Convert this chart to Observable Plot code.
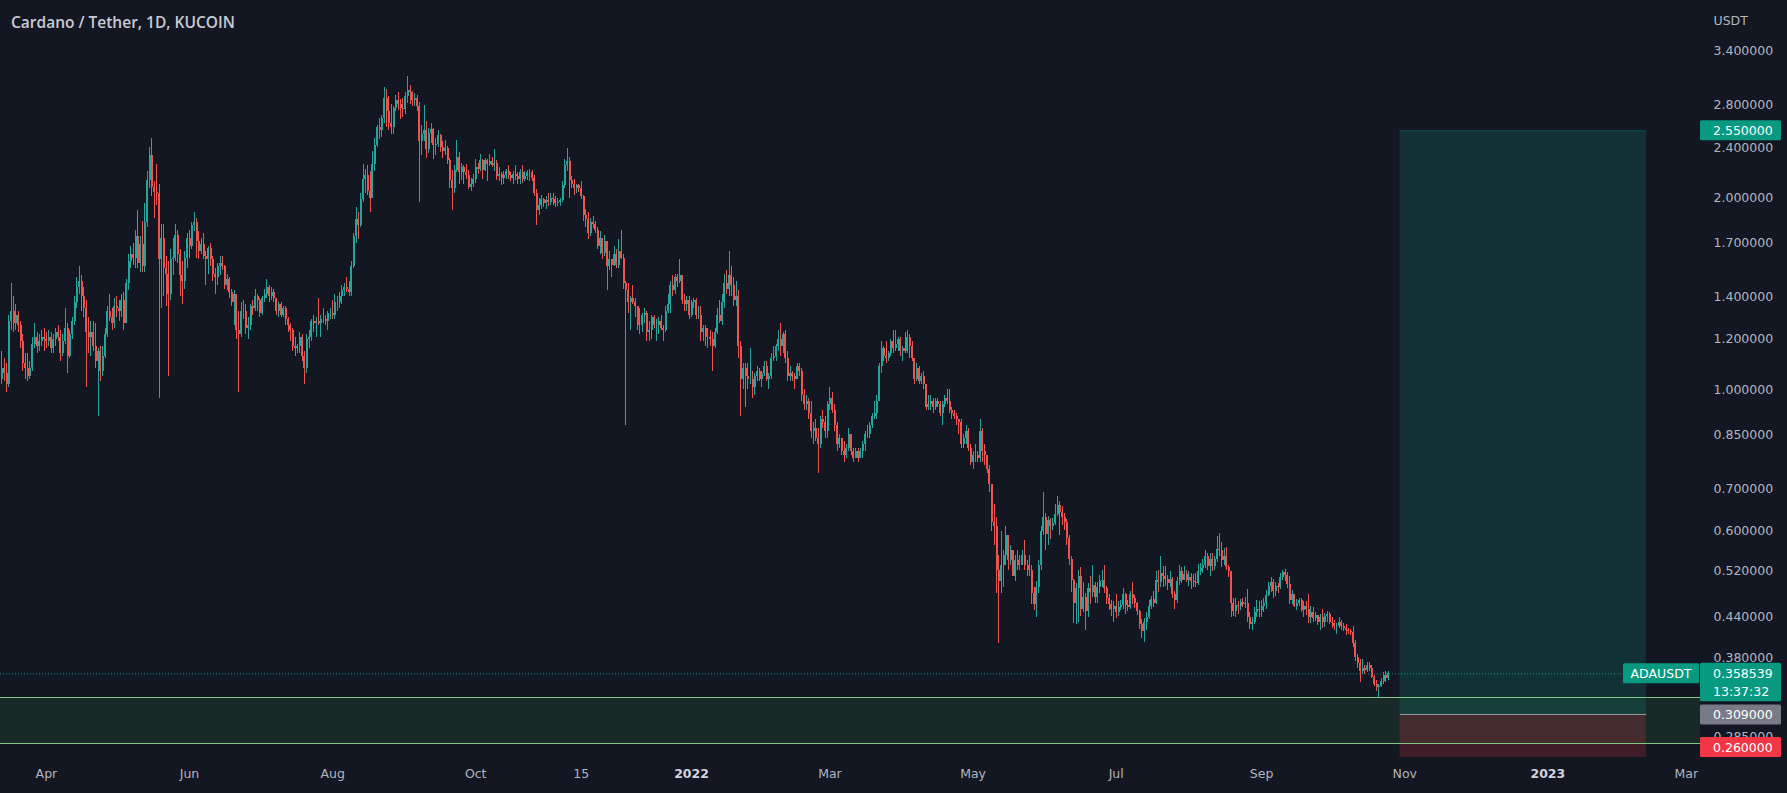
<!DOCTYPE html>
<html><head><meta charset="utf-8">
<script src="https://cdn.jsdelivr.net/npm/d3@7"></script>
<script src="https://cdn.jsdelivr.net/npm/@observablehq/plot@0.6"></script>
<style>
html,body{margin:0;padding:0;background:#131722;}
#wrap{position:relative;width:1787px;height:793px;overflow:hidden;background:#131722;}
#title{position:absolute;left:11px;top:11px;line-height:19px;font:600 15.5px "Open Sans",sans-serif;color:#c8cbd3;white-space:nowrap;}
</style></head><body>
<div id="wrap"><div id="title">Cardano / Tether, 1D, KUCOIN</div></div>
<script>
// ---- Daily ADA/USDT candles, first day 2021-03-13, one line per month ----
const startDate = "2021-03-13";
const firstOpen = 1.04;
const closes = [
1.08,1.06,1.02,1.28,1.33,1.27,1.31,1.26,1.19,1.10,1.08,1.05,1.08,1.18,1.21,1.17,1.19,1.21,1.20,
1.19,1.21,1.16,1.20,1.23,1.21,1.14,1.19,1.25,1.13,1.22,1.28,1.37,1.45,1.48,1.40,1.34,1.23,1.21,1.23,1.17,1.11,1.15,1.07,1.13,1.22,1.33,1.30,1.27,1.35,
1.34,1.33,1.38,1.27,1.47,1.59,1.63,1.61,1.74,1.58,1.69,1.56,1.83,2.13,2.33,2.08,2.04,2.03,1.60,1.73,1.55,1.52,1.41,1.60,1.61,1.75,1.63,1.51,1.48,1.61,1.73,
1.68,1.81,1.83,1.71,1.65,1.69,1.62,1.60,1.67,1.60,1.52,1.50,1.56,1.58,1.56,1.46,1.49,1.42,1.37,1.41,1.24,1.22,1.33,1.33,1.25,1.26,1.35,1.34,1.40,1.38,
1.32,1.39,1.41,1.45,1.40,1.42,1.39,1.33,1.36,1.31,1.34,1.29,1.26,1.24,1.17,1.16,1.17,1.21,1.13,1.08,1.20,1.21,1.28,1.27,1.28,1.27,1.29,1.29,1.28,1.32,1.32,
1.31,1.37,1.37,1.40,1.43,1.45,1.44,1.42,1.56,1.74,1.85,1.81,1.99,2.14,2.17,2.05,2.00,2.26,2.42,2.58,2.55,2.67,2.87,2.73,2.62,2.58,2.76,2.85,2.80,2.76,2.75,
2.89,2.95,2.93,2.85,2.87,2.78,2.45,2.52,2.55,2.38,2.53,2.56,2.42,2.43,2.51,2.40,2.37,2.39,2.29,2.13,2.07,2.21,2.32,2.19,2.23,2.19,2.17,2.08,2.10,2.14,
2.23,2.22,2.29,2.21,2.29,2.26,2.28,2.25,2.27,2.16,2.18,2.15,2.17,2.20,2.17,2.15,2.18,2.16,2.14,2.19,2.14,2.16,2.19,2.19,2.15,2.03,1.91,1.95,1.99,1.96,1.98,
1.97,2.00,1.99,1.96,1.97,1.98,2.09,2.25,2.28,2.13,2.10,2.07,2.09,2.07,2.01,1.88,1.85,1.76,1.83,1.82,1.78,1.68,1.73,1.64,1.71,1.56,1.60,1.57,1.63,1.57,
1.65,1.61,1.47,1.43,1.37,1.39,1.37,1.35,1.26,1.26,1.31,1.32,1.23,1.24,1.30,1.26,1.26,1.28,1.25,1.24,1.33,1.36,1.46,1.43,1.50,1.48,1.51,1.38,1.36,1.38,1.31,
1.37,1.38,1.31,1.31,1.23,1.25,1.21,1.21,1.20,1.17,1.23,1.31,1.28,1.37,1.47,1.44,1.51,1.46,1.38,1.40,1.17,1.04,1.08,1.05,1.04,1.04,1.01,1.05,1.07,1.04,1.06,
1.09,1.04,1.05,1.12,1.13,1.17,1.20,1.17,1.22,1.12,1.05,1.06,1.05,1.04,1.09,1.07,0.98,0.95,0.96,0.92,0.86,0.87,0.84,0.82,0.90,0.89,0.86,0.95,
0.97,0.93,0.88,0.82,0.84,0.80,0.79,0.81,0.85,0.80,0.78,0.80,0.78,0.80,0.82,0.85,0.85,0.88,0.91,0.92,0.96,1.09,1.16,1.13,1.12,1.14,1.19,1.16,1.18,1.20,1.15,
1.16,1.15,1.21,1.17,1.12,1.04,1.08,1.03,1.05,1.02,0.94,0.95,0.96,0.94,0.96,0.95,0.92,0.95,0.97,0.96,0.93,0.92,0.91,0.90,0.89,0.82,0.84,0.86,0.81,0.77,
0.79,0.79,0.78,0.86,0.80,0.79,0.75,0.71,0.62,0.61,0.52,0.50,0.53,0.55,0.59,0.54,0.56,0.51,0.54,0.53,0.53,0.55,0.53,0.53,0.52,0.48,0.46,0.49,0.53,0.60,0.63,
0.594,0.623,0.611,0.618,0.637,0.658,0.642,0.631,0.619,0.584,0.541,0.503,0.463,0.488,0.509,0.452,0.472,0.449,0.488,0.481,0.494,0.472,0.489,0.501,0.503,0.488,0.470,0.461,0.452,0.458,
0.448,0.456,0.459,0.477,0.459,0.455,0.478,0.470,0.463,0.449,0.429,0.418,0.432,0.440,0.458,0.469,0.462,0.502,0.498,0.516,0.509,0.504,0.497,0.505,0.478,0.467,0.501,0.518,0.503,0.514,0.502,
0.508,0.500,0.499,0.497,0.519,0.524,0.531,0.548,0.529,0.541,0.528,0.542,0.561,0.559,0.539,0.548,0.527,0.518,0.462,0.449,0.459,0.458,0.464,0.461,0.462,0.440,0.428,0.431,0.447,0.452,0.451,
0.458,0.462,0.476,0.492,0.498,0.483,0.491,0.489,0.508,0.517,0.512,0.496,0.468,0.478,0.457,0.462,0.467,0.451,0.458,0.452,0.440,0.447,0.438,0.442,0.432,0.440,0.431,0.441,0.444,0.432,
0.430,0.425,0.425,0.431,0.426,0.423,0.419,0.418,0.416,0.400,0.380,0.372,0.362,0.366,0.363,0.370,0.366,0.354,0.345,0.341,0.343,0.349,0.357,0.353,0.3585
];
const highs = [
1.15,1.12,1.10,1.31,1.47,1.40,1.36,1.33,1.28,1.22,1.14,1.14,1.11,1.21,1.27,1.23,1.22,1.24,1.25,
1.23,1.24,1.23,1.22,1.25,1.26,1.24,1.22,1.34,1.27,1.24,1.30,1.40,1.50,1.56,1.51,1.45,1.38,1.30,1.28,1.28,1.27,1.16,1.17,1.17,1.25,1.35,1.41,1.34,1.39,
1.40,1.38,1.41,1.42,1.49,1.63,1.68,1.70,1.78,1.91,1.74,1.84,1.96,2.20,2.40,2.48,2.12,2.26,2.10,1.82,1.82,1.62,1.59,1.66,1.73,1.82,1.78,1.66,1.59,1.65,1.76,
1.78,1.83,1.90,1.86,1.77,1.73,1.76,1.65,1.68,1.70,1.62,1.55,1.58,1.62,1.62,1.57,1.52,1.50,1.44,1.43,1.41,1.33,1.37,1.38,1.36,1.30,1.36,1.38,1.44,1.41,
1.39,1.40,1.44,1.49,1.46,1.45,1.44,1.39,1.37,1.37,1.35,1.35,1.30,1.27,1.25,1.21,1.18,1.23,1.22,1.15,1.22,1.24,1.29,1.31,1.30,1.39,1.31,1.34,1.31,1.33,1.34,
1.38,1.41,1.40,1.42,1.46,1.47,1.50,1.48,1.59,1.76,1.93,1.90,2.03,2.26,2.22,2.25,2.20,2.37,2.48,2.60,2.67,2.70,2.98,2.96,2.89,2.80,2.78,2.90,2.93,2.86,2.87,
2.93,3.10,3.00,2.94,2.92,2.90,2.82,2.60,2.79,2.64,2.57,2.62,2.57,2.48,2.55,2.52,2.45,2.46,2.41,2.31,2.21,2.25,2.46,2.36,2.27,2.25,2.26,2.21,2.15,2.18,
2.30,2.27,2.34,2.30,2.31,2.30,2.34,2.32,2.38,2.29,2.23,2.19,2.20,2.22,2.25,2.19,2.20,2.25,2.19,2.22,2.25,2.20,2.21,2.22,2.21,2.17,2.06,2.00,2.02,2.00,2.01,
2.03,2.03,2.03,2.01,2.00,2.00,2.12,2.30,2.39,2.32,2.16,2.14,2.10,2.10,2.12,2.02,1.92,1.90,1.86,1.87,1.84,1.80,1.77,1.73,1.75,1.71,1.65,1.60,1.68,1.66,
1.72,1.78,1.63,1.48,1.47,1.40,1.46,1.39,1.35,1.34,1.32,1.34,1.33,1.28,1.31,1.31,1.29,1.30,1.31,1.26,1.35,1.41,1.48,1.51,1.52,1.52,1.60,1.51,1.41,1.40,1.40,
1.38,1.39,1.39,1.35,1.35,1.26,1.26,1.25,1.24,1.23,1.25,1.34,1.38,1.41,1.52,1.54,1.65,1.56,1.50,1.48,1.43,1.19,1.10,1.10,1.10,1.16,1.07,1.06,1.09,1.08,1.07,
1.11,1.11,1.06,1.14,1.17,1.18,1.24,1.27,1.23,1.24,1.15,1.09,1.07,1.06,1.10,1.10,1.08,1.00,0.98,0.97,0.96,0.89,0.90,0.87,0.91,0.93,0.91,0.96,
1.01,0.99,0.95,0.89,0.85,0.84,0.83,0.82,0.87,0.85,0.81,0.81,0.81,0.81,0.83,0.86,0.88,0.89,0.92,0.96,0.98,1.10,1.19,1.17,1.19,1.15,1.20,1.24,1.24,1.21,1.21,
1.17,1.23,1.24,1.22,1.19,1.12,1.10,1.09,1.06,1.07,1.02,0.98,0.98,0.97,0.97,0.97,0.96,0.96,0.98,1.00,1.00,0.94,0.93,0.92,0.90,0.90,0.85,0.88,0.87,0.82,
0.80,0.82,0.80,0.90,0.87,0.82,0.79,0.76,0.71,0.66,0.63,0.55,0.60,0.56,0.61,0.59,0.57,0.56,0.55,0.56,0.55,0.56,0.58,0.54,0.55,0.53,0.49,0.50,0.54,0.61,0.69,
0.640,0.634,0.628,0.628,0.662,0.680,0.668,0.656,0.641,0.627,0.590,0.548,0.504,0.497,0.520,0.527,0.498,0.480,0.497,0.510,0.530,0.499,0.498,0.512,0.520,0.531,0.492,0.478,0.468,0.466,
0.478,0.466,0.468,0.488,0.480,0.468,0.483,0.499,0.476,0.464,0.450,0.436,0.438,0.448,0.467,0.474,0.482,0.518,0.521,0.547,0.529,0.528,0.512,0.518,0.507,0.482,0.507,0.530,0.526,0.529,0.521,
0.518,0.516,0.513,0.516,0.532,0.535,0.541,0.559,0.553,0.554,0.553,0.548,0.588,0.595,0.576,0.563,0.566,0.531,0.519,0.471,0.470,0.466,0.469,0.471,0.472,0.487,0.448,0.440,0.456,0.468,0.466,
0.468,0.471,0.485,0.499,0.508,0.505,0.499,0.497,0.515,0.520,0.523,0.517,0.510,0.485,0.478,0.469,0.471,0.470,0.465,0.466,0.478,0.457,0.455,0.447,0.443,0.445,0.452,0.446,0.449,0.447,
0.440,0.435,0.430,0.440,0.435,0.430,0.428,0.422,0.421,0.425,0.405,0.385,0.378,0.378,0.370,0.374,0.374,0.370,0.356,0.350,0.345,0.352,0.360,0.362,0.362
];
const lows = [
1.02,1.03,0.99,1.01,1.24,1.23,1.24,1.23,1.16,1.07,1.04,1.03,1.04,1.07,1.16,1.14,1.15,1.17,1.15,
1.16,1.17,1.14,1.14,1.17,1.19,1.11,1.13,1.18,1.06,1.12,1.20,1.26,1.34,1.41,1.33,1.30,1.01,1.14,1.13,1.15,1.08,0.91,1.03,1.05,1.12,1.21,1.28,1.24,1.25,
1.30,1.28,1.30,1.24,1.27,1.43,1.55,1.57,1.55,1.55,1.53,1.53,1.53,1.80,2.07,2.01,1.86,1.95,0.97,1.34,1.40,1.35,1.05,1.38,1.51,1.59,1.58,1.40,1.36,1.44,1.55,
1.61,1.66,1.77,1.61,1.60,1.63,1.60,1.46,1.52,1.56,1.48,1.41,1.46,1.51,1.54,1.44,1.43,1.39,1.35,1.26,1.20,0.99,1.21,1.29,1.22,1.20,1.24,1.31,1.33,1.33,
1.30,1.31,1.37,1.39,1.37,1.38,1.37,1.31,1.30,1.30,1.30,1.26,1.23,1.19,1.15,1.13,1.14,1.14,1.11,1.02,1.06,1.16,1.19,1.23,1.21,1.26,1.21,1.27,1.26,1.24,1.29,
1.29,1.29,1.33,1.34,1.36,1.40,1.42,1.40,1.40,1.55,1.70,1.72,1.80,1.97,2.03,2.02,1.90,2.00,2.20,2.40,2.47,2.49,2.62,2.58,2.55,2.52,2.52,2.73,2.74,2.66,2.68,
2.71,2.81,2.80,2.78,2.78,2.73,1.97,2.33,2.45,2.31,2.35,2.44,2.30,2.33,2.40,2.36,2.31,2.33,2.26,2.07,1.91,2.03,2.19,2.10,2.13,2.10,2.14,2.06,2.05,2.08,
2.11,2.18,2.20,2.14,2.20,2.12,2.24,2.23,2.20,2.13,2.12,2.09,2.10,2.14,2.14,2.12,2.10,2.13,2.10,2.10,2.11,2.12,2.13,2.12,2.12,2.01,1.81,1.88,1.92,1.93,1.92,
1.94,1.95,1.95,1.93,1.94,1.94,1.97,2.07,2.20,2.00,2.07,2.02,2.03,2.04,1.99,1.84,1.80,1.72,1.74,1.79,1.76,1.66,1.63,1.60,1.62,1.43,1.54,1.50,1.56,1.55,
1.55,1.60,1.44,0.88,1.32,1.24,1.36,1.30,1.24,1.22,1.23,1.27,1.19,1.19,1.20,1.25,1.19,1.22,1.24,1.19,1.23,1.32,1.32,1.40,1.41,1.45,1.47,1.36,1.33,1.33,1.29,
1.30,1.34,1.29,1.29,1.19,1.19,1.17,1.16,1.17,1.07,1.16,1.22,1.27,1.26,1.34,1.41,1.40,1.40,1.35,1.35,1.12,0.91,1.00,0.94,1.00,1.02,0.97,0.98,1.03,1.03,1.01,
1.05,1.03,1.00,1.04,1.11,1.11,1.15,1.13,1.14,1.10,1.03,1.03,1.03,1.00,1.04,1.05,0.96,0.93,0.93,0.90,0.84,0.82,0.83,0.74,0.81,0.87,0.84,0.84,
0.93,0.92,0.86,0.80,0.81,0.79,0.77,0.78,0.80,0.79,0.77,0.78,0.77,0.78,0.78,0.80,0.84,0.84,0.87,0.90,0.90,0.96,1.06,1.11,1.10,1.11,1.13,1.14,1.15,1.15,1.13,
1.11,1.14,1.14,1.12,1.11,1.02,1.03,1.02,1.02,1.00,0.93,0.93,0.93,0.92,0.93,0.94,0.91,0.88,0.94,0.95,0.92,0.90,0.90,0.88,0.85,0.81,0.81,0.82,0.80,0.76,
0.75,0.77,0.77,0.77,0.77,0.76,0.74,0.69,0.60,0.57,0.48,0.40,0.48,0.49,0.53,0.52,0.53,0.51,0.50,0.52,0.52,0.53,0.52,0.51,0.51,0.46,0.45,0.44,0.48,0.52,0.59,
0.560,0.571,0.583,0.602,0.612,0.632,0.590,0.612,0.601,0.570,0.530,0.481,0.430,0.428,0.432,0.441,0.448,0.420,0.440,0.460,0.472,0.462,0.463,0.480,0.489,0.480,0.461,0.450,0.441,0.432,
0.438,0.441,0.450,0.452,0.444,0.449,0.452,0.461,0.454,0.442,0.421,0.408,0.401,0.420,0.436,0.452,0.455,0.461,0.481,0.490,0.490,0.491,0.484,0.490,0.470,0.452,0.462,0.493,0.497,0.502,0.498,
0.492,0.487,0.489,0.490,0.494,0.511,0.515,0.524,0.520,0.510,0.518,0.521,0.537,0.548,0.527,0.530,0.521,0.508,0.440,0.441,0.440,0.445,0.451,0.455,0.454,0.432,0.421,0.419,0.428,0.440,0.440,
0.440,0.448,0.452,0.474,0.481,0.471,0.474,0.480,0.486,0.502,0.500,0.488,0.460,0.460,0.455,0.451,0.458,0.447,0.440,0.442,0.430,0.430,0.431,0.433,0.427,0.420,0.422,0.424,0.431,0.428,
0.422,0.420,0.413,0.422,0.420,0.418,0.412,0.413,0.412,0.395,0.375,0.365,0.347,0.358,0.358,0.360,0.362,0.352,0.342,0.336,0.329,0.341,0.345,0.347,0.350
];

// ---- Axis ticks ----
const yTicks = [3.4, 2.8, 2.4, 2.0, 1.7, 1.4, 1.2, 1.0, 0.85, 0.7, 0.6, 0.52, 0.44, 0.38, 0.285];
const xTickDates = ["2021-04-01","2021-06-01","2021-08-01","2021-10-01","2021-11-15","2022-01-01","2022-03-01","2022-05-01","2022-07-01","2022-09-01","2022-11-01","2023-01-01","2023-03-01"];
const xTickLabels = ["Apr","Jun","Aug","Oct","15","2022","Mar","May","Jul","Sep","Nov","2023","Mar"];
const xTickBold = [false,false,false,false,false,true,false,false,false,false,false,true,false];

// ---- Drawings ----
const zoneBounds = [0.2785, 0.329];
const posStart = "2022-10-30", posEnd = "2023-02-12";
const entryPrice = 0.309, targetPrice = 2.55, stopPrice = 0.26;
const lastPrice = 0.358539, countdown = "13:37:32", symbol = "ADAUSDT", unit = "USDT";
const viewStart = "2021-03-12T10:26Z", viewEnd = "2023-03-07T01:40Z";
const priceView = [0.265, 4.084];

// ---- Build ----
const UP = "#26a69a", DOWN = "#ef5350", TXT = "#b2b5be", FONT = "DejaVu Sans";
const DAY = 864e5, t0 = Date.parse(startDate + "T00:00Z");
const candles = closes.map((c, i) => {
  const o = i ? closes[i - 1] : firstOpen;
  return {date: new Date(t0 + i * DAY), open: o, close: c,
          high: Math.max(highs[i], o, c), low: Math.min(lows[i], o, c), up: c >= o};
});
const upC = candles.filter(d => d.up), dnC = candles.filter(d => !d.up);
const ticks = xTickDates.map((d, i) => ({date: new Date(d + "T00:00Z"), label: xTickLabels[i], bold: xTickBold[i]}));
const pos = [{x1: new Date(posStart + "T00:00Z"), x2: new Date(posEnd + "T00:00Z")}];
const fmt = d3.format(".6f");

function priceBadges(index, scales, values, dims) {
  const xR = dims.width - dims.marginRight;
  const yMax = dims.height - dims.marginBottom;
  const g = d3.create("svg:g").attr("font-family", FONT).attr("font-size", 12.5);
  const add = (x, y, w, h, fill, lines, anchor) => {
    g.append("rect").attr("x", x).attr("y", y).attr("width", w).attr("height", h).attr("fill", fill).attr("rx", 1.5);
    for (const [t, ty] of lines) {
      g.append("text").attr("x", anchor === "middle" ? x + w / 2 : x + 13).attr("y", ty)
        .attr("dy", "0.36em").attr("text-anchor", anchor).attr("fill", "#ffffff").text(t);
    }
  };
  const yT = scales.y(targetPrice);
  add(xR, yT - 10, 81, 20, "#089981", [[fmt(targetPrice), yT]], "start");
  const yL = scales.y(lastPrice);
  add(xR - 77, yL - 10, 76, 20, "#089981", [[symbol, yL]], "middle");
  add(xR, yL - 10.5, 81, 38.5, "#089981", [[fmt(lastPrice), yL], [countdown, yL + 18]], "start");
  const yE = scales.y(entryPrice);
  add(xR, yE - 10, 81, 20, "#787b86", [[fmt(entryPrice), yE]], "start");
  const yS = Math.min(scales.y(stopPrice), yMax - 10);
  add(xR, yS - 10, 81, 20, "#f23645", [[fmt(stopPrice), yS]], "start");
  return g.node();
}

const chart = Plot.plot({
  width: 1787, height: 793,
  marginLeft: 0, marginRight: 87, marginTop: 0, marginBottom: 36,
  style: {background: "#131722", color: TXT, fontFamily: FONT, fontSize: "12.5px", overflow: "visible"},
  x: {type: "utc", domain: [new Date(viewStart), new Date(viewEnd)], axis: null},
  y: {type: "log", domain: priceView, axis: null},
  marks: [
    Plot.rect([zoneBounds], {y1: d => d[0], y2: d => d[1], fill: "#4caf50", fillOpacity: 0.12}),
    Plot.rect(pos, {x1: "x1", x2: "x2", y1: () => entryPrice, y2: () => targetPrice, fill: "#089981", fillOpacity: 0.2}),
    Plot.rect(pos, {x1: "x1", x2: "x2", y1: () => stopPrice, y2: () => entryPrice, fill: "#f23645", fillOpacity: 0.2, clip: true}),
    Plot.ruleX(upC, {x: "date", y1: "low", y2: "high", stroke: UP, strokeWidth: 1, shapeRendering: "crispEdges"}),
    Plot.ruleX(dnC, {x: "date", y1: "low", y2: "high", stroke: DOWN, strokeWidth: 1, shapeRendering: "crispEdges"}),
    Plot.ruleX(upC, {x: "date", y1: "open", y2: "close", stroke: UP, strokeWidth: 2, shapeRendering: "crispEdges"}),
    Plot.ruleX(dnC, {x: "date", y1: "open", y2: "close", stroke: DOWN, strokeWidth: 2, shapeRendering: "crispEdges"}),
    Plot.ruleY(zoneBounds, {stroke: "#81c784", strokeWidth: 1, shapeRendering: "crispEdges"}),
    Plot.ruleY(pos, {x1: "x1", x2: "x2", y: () => entryPrice, stroke: "#9598a1", strokeWidth: 1, shapeRendering: "crispEdges"}),
    Plot.ruleY(pos, {x1: "x1", x2: "x2", y: () => targetPrice, stroke: "#089981", strokeOpacity: 0.35, strokeWidth: 1}),
    Plot.ruleY([lastPrice], {stroke: "#089981", strokeDasharray: "1,2", strokeWidth: 1}),
    Plot.axisY(yTicks, {anchor: "right", tickSize: 0, tickPadding: 13, tickFormat: fmt, fill: TXT, fontSize: 12.5, label: null}),
    Plot.text(ticks.filter(d => !d.bold), {x: "date", text: "label", frameAnchor: "bottom", dy: 20, fill: TXT, fontSize: 12.5}),
    Plot.text(ticks.filter(d => d.bold), {x: "date", text: "label", frameAnchor: "bottom", dy: 20, fill: "#d1d4dc", fontSize: 12.5, fontWeight: "bold"}),
    Plot.text([unit], {frameAnchor: "top-right", dx: 13, dy: 16, textAnchor: "start", fill: TXT, fontSize: 12.5}),
    priceBadges
  ]
});
document.getElementById("wrap").prepend(chart);
</script>
</body></html>
